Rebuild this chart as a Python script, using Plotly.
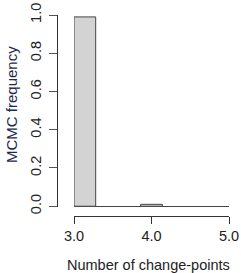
import plotly.graph_objects as go

# Data
change_points = [3, 4, 5]
frequency = [0.99, 0.01, 0.0]
bar_offsets = [0.0, -0.14, -0.14]
bar_width = 0.28
x_ticks = [3, 4, 5]
x_tick_labels = ["3.0", "4.0", "5.0"]
y_ticks = [0, 0.2, 0.4, 0.6, 0.8, 1.0]
y_tick_labels = ["0.0", "0.2", "0.4", "0.6", "0.8", "1.0"]

W, H = 241, 273
ML, MR, MT, MB = 57, 12, 15, 57
PW, PH = W - ML - MR, H - MT - MB
FONT = "Liberation Sans, Arial, sans-serif"
FS = 14.5

fig = go.Figure(go.Bar(
    x=change_points[:2], y=frequency[:2],
    offset=bar_offsets[:2], width=bar_width,
    marker=dict(color="#d3d3d3", line=dict(color="#444444", width=1)),
))

fig.update_layout(
    width=W, height=H, autosize=False,
    margin=dict(l=ML, r=MR, t=MT, b=MB, pad=0),
    paper_bgcolor="white", plot_bgcolor="white",
    showlegend=False,
    font=dict(family=FONT, size=FS, color="#222222"),
    xaxis=dict(
        domain=[(74 - ML) / PW, 1.0],
        range=[3, 5],
        anchor="free", position=0,
        automargin=False,
        tickmode="array", tickvals=x_ticks, ticktext=x_tick_labels,
        ticks="outside", ticklen=7, tickcolor="#333333",
        ticklabelstandoff=0,
        showline=True, linecolor="#333333", linewidth=1,
        showgrid=False, zeroline=False,
        tickfont=dict(size=FS, color="#222222"),
    ),
    yaxis=dict(
        domain=[(MT + PH - 207) / PH, 1.0],
        range=[-0.004, 1.0],
        anchor="free", position=0,
        automargin=False,
        tickmode="array", tickvals=y_ticks, ticktext=y_tick_labels,
        tickangle=-90,
        ticks="outside", ticklen=8, tickcolor="#555555",
        ticklabelstandoff=2,
        showline=True, linecolor="#333333", linewidth=1,
        showgrid=False,
        zeroline=True, zerolinecolor="#444444", zerolinewidth=1,
        tickfont=dict(size=FS, color="#222222"),
    ),
    annotations=[
        dict(text="Number of change-points", xref="paper", yref="paper",
             x=(148.5 - ML) / PW, y=(MT + PH - 265) / PH,
             showarrow=False, xanchor="center", yanchor="middle",
             font=dict(size=FS, color="#222222")),
        dict(text="MCMC frequency", xref="paper", yref="paper",
             x=(12 - ML) / PW, y=(MT + PH - 105) / PH, textangle=-90,
             showarrow=False, xanchor="center", yanchor="middle",
             font=dict(size=15, color="#1b2a4e")),
    ],
)

fig.write_html("out.html", config={"displayModeBar": False, "staticPlot": True})
with open("out.html", "r", encoding="utf-8") as f:
    html = f.read()
html = html.replace("<head>", "<head><style>html,body{margin:0;padding:0;overflow:hidden}</style>", 1)
with open("out.html", "w", encoding="utf-8") as f:
    f.write(html)
